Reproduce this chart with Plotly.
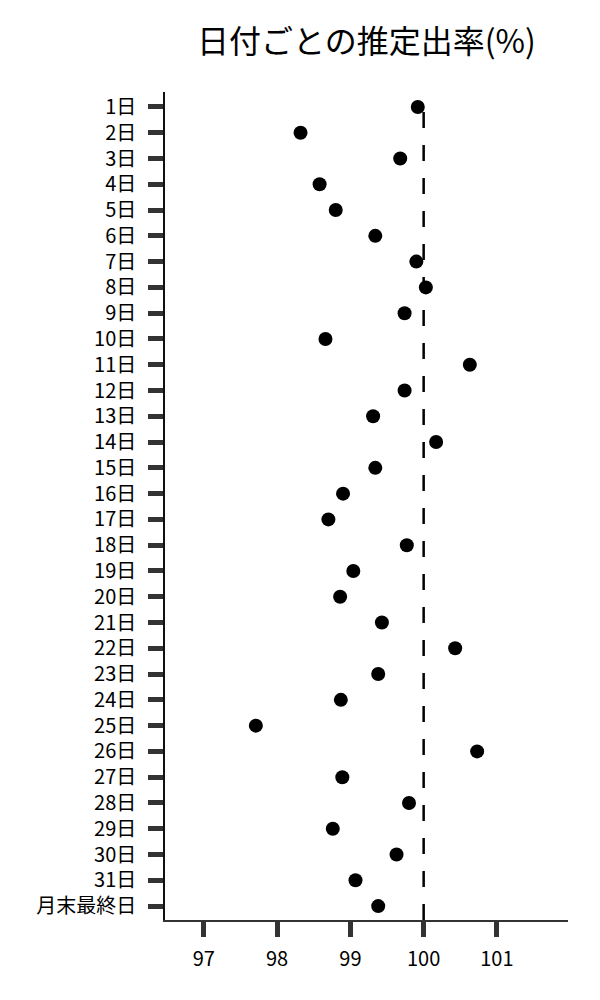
import plotly.graph_objects as go

days = [f"{i}日" for i in range(1, 32)] + ["月末最終日"]
rates = [99.92, 98.32, 99.68, 98.58, 98.80, 99.34, 99.90, 100.03, 99.74, 98.66,
         100.63, 99.74, 99.31, 100.17, 99.34, 98.90, 98.70, 99.77, 99.04, 98.86,
         99.43, 100.43, 99.38, 98.87, 97.71, 100.73, 98.89, 99.80, 98.76, 99.63,
         99.07, 99.38]
x_ticks = [97, 98, 99, 100, 101]
ref_value = 100

FONT = "Noto Sans CJK JP"

fig = go.Figure()
fig.add_trace(go.Scatter(
    x=rates, y=days, mode="markers",
    marker=dict(color="black", size=14),
    showlegend=False, hoverinfo="x+y",
))

fig.add_shape(type="line", xref="x", yref="paper",
              x0=ref_value, x1=ref_value, y0=0, y1=0.985,
              line=dict(color="black", width=2.5, dash="16px,17px"),
              layer="below")

fig.update_layout(
    width=600, height=1000,
    margin=dict(l=157, r=40, t=84, b=88),
    paper_bgcolor="white", plot_bgcolor="white",
    font=dict(family=FONT, color="black", size=20),
    title=dict(text="日付ごとの推定出率(%)", x=0.5, xref="paper", xanchor="center",
               y=1 - 34 / 1000, yref="container", yanchor="middle",
               font=dict(family=FONT, size=32, color="black")),
)

fig.update_xaxes(
    range=[96.47, 101.97], tickvals=x_ticks, ticktext=[str(v) for v in x_ticks],
    showgrid=False, zeroline=False,
    showline=True, linecolor="#333333", linewidth=1.5,
    ticks="outside", ticklen=15, tickwidth=5, tickcolor="#333333",
    tickfont=dict(family=FONT, size=20, color="black"),
    ticklabelstandoff=5,
)
fig.update_yaxes(
    type="category", categoryorder="array", categoryarray=days,
    range=[31.54, -0.58],
    showgrid=False, zeroline=False,
    showline=True, linecolor="#111111", linewidth=1.5,
    ticks="outside", ticklen=15, tickwidth=4.5, tickcolor="#333333",
    tickfont=dict(family=FONT, size=20, color="black"),
    ticklabelstandoff=8,
)

fig.write_html("out.html")
